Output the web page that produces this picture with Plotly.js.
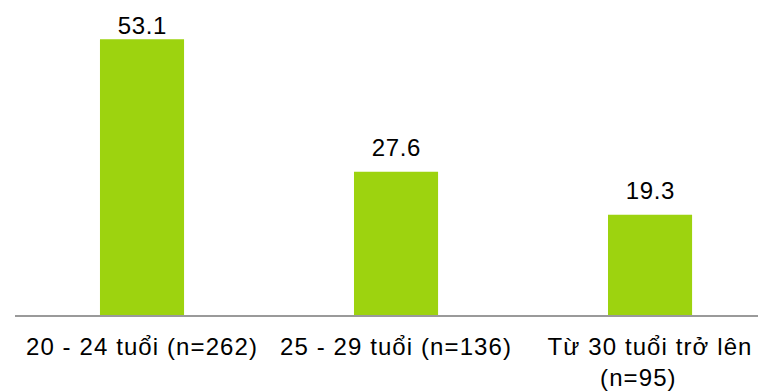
<!DOCTYPE html>
<html>
<head>
<meta charset="utf-8">
<script src="https://cdn.plot.ly/plotly-3.0.1.min.js"></script>
<style>
  html, body { margin: 0; padding: 0; background: #ffffff; }
  #chart { width: 758px; height: 392px; }
  /* slightly looser tracking for the category and value labels */
  #chart .xtick text { letter-spacing: 1.1px; }
  #chart .annotation-text-g text { letter-spacing: 0.6px; }
</style>
</head>
<body>
<div id="chart"></div>
<script>
// Age groups and share (%) in each group
const categories = ['20 - 24 tuổi (n=262)', '25 - 29 tuổi (n=136)', 'Từ 30 tuổi trở lên<br>(n=95)   '];
const values = [53.1, 27.6, 19.3];
const valueLabels = ['53.1', '27.6', '19.3'];

const barColor = '#9dd30f';
const font = { family: 'Liberation Sans, Arial, sans-serif', size: 24, color: '#000000' };

const W = 758, H = 392;
const margin = { l: 15, r: 0, t: 0, b: 76.5 };
const yMax = 60.66;
const plotH = H - margin.t - margin.b;

// value labels sit above the bars, but are kept inside the chart at the top
const labelGap = 9, labelBoxH = 29, labelTopMin = 12;
const annotations = values.map((v, i) => {
  const barTopPx = plotH * (1 - v / yMax);
  const shift = Math.min(labelGap, barTopPx - labelBoxH - labelTopMin);
  return {
    x: i,
    y: v,
    xref: 'x',
    yref: 'y',
    text: valueLabels[i],
    showarrow: false,
    yanchor: 'bottom',
    yshift: shift,
    font: font
  };
});

const trace = {
  type: 'bar',
  x: [0, 1, 2],
  y: values,
  marker: { color: barColor, line: { width: 0 } },
  hoverinfo: 'none',
  cliponaxis: false
};

const layout = {
  width: W,
  height: H,
  margin: margin,
  paper_bgcolor: '#ffffff',
  plot_bgcolor: '#ffffff',
  bargap: 0.669,
  showlegend: false,
  font: font,
  xaxis: {
    range: [-0.5, 2.425],
    tickmode: 'array',
    tickvals: [0, 1, 2],
    ticktext: categories,
    showline: true,
    linecolor: '#9a9a9a',
    linewidth: 2,
    showgrid: false,
    zeroline: false,
    ticks: 'outside',
    ticklen: 9,
    tickcolor: 'rgba(0,0,0,0)',
    tickfont: font,
    fixedrange: true
  },
  yaxis: {
    range: [0, yMax],
    visible: false,
    showgrid: false,
    zeroline: false,
    fixedrange: true
  },
  annotations: annotations
};

Plotly.newPlot('chart', [trace], layout, { displayModeBar: false, staticPlot: true });
</script>
</body>
</html>
